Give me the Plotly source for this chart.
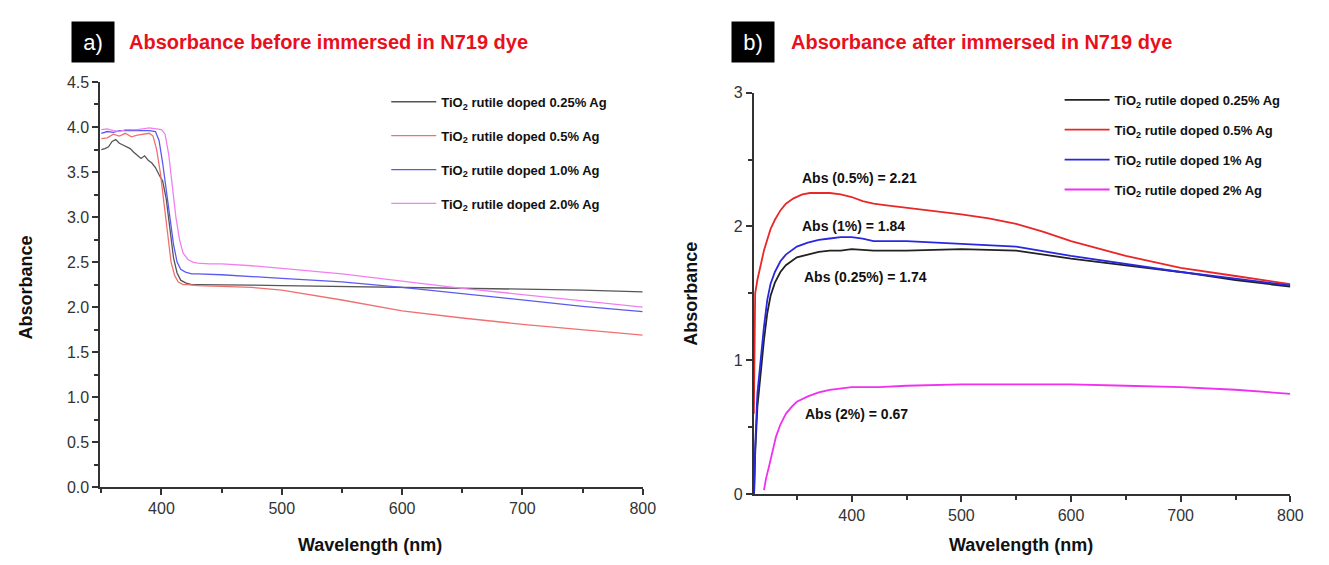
import plotly.graph_objects as go

# ---------------- data: panel a (before dye) ----------------
a_names = ["TiO<sub>2</sub> rutile doped 0.25% Ag", "TiO<sub>2</sub> rutile doped 0.5% Ag",
           "TiO<sub>2</sub> rutile doped 1.0% Ag", "TiO<sub>2</sub> rutile doped 2.0% Ag"]
a_black_x = [350, 353, 356, 359, 362, 365, 368, 371, 374, 377, 380, 383, 386, 389, 392, 395, 398, 401, 404,
             407, 410, 413, 416, 420, 425, 430, 440, 450, 475, 500, 550, 600, 650, 700, 750, 800]
a_black_y = [3.75, 3.76, 3.78, 3.84, 3.86, 3.82, 3.80, 3.78, 3.76, 3.72, 3.68, 3.65, 3.68, 3.63, 3.60, 3.55,
             3.47, 3.40, 3.20, 2.85, 2.55, 2.38, 2.30, 2.27, 2.25, 2.25, 2.25, 2.25, 2.245, 2.24, 2.23, 2.22,
             2.21, 2.20, 2.19, 2.17]
a_red_x = [350, 355, 360, 365, 370, 375, 380, 385, 390, 393, 396, 399, 402, 405, 408, 411, 414, 418, 422,
           430, 450, 475, 500, 550, 600, 650, 700, 750, 800]
a_red_y = [3.87, 3.88, 3.92, 3.90, 3.93, 3.89, 3.91, 3.92, 3.93, 3.90, 3.75, 3.50, 3.15, 2.80, 2.50, 2.35,
           2.28, 2.25, 2.25, 2.24, 2.23, 2.22, 2.19, 2.08, 1.96, 1.88, 1.81, 1.75, 1.69]
a_blue_x = [350, 355, 360, 365, 370, 380, 390, 395, 398, 401, 404, 407, 410, 413, 416, 420, 425, 430, 450,
            500, 550, 600, 650, 700, 750, 800]
a_blue_y = [3.93, 3.95, 3.94, 3.96, 3.96, 3.96, 3.96, 3.95, 3.85, 3.60, 3.30, 3.00, 2.70, 2.50, 2.42, 2.39,
            2.37, 2.37, 2.36, 2.32, 2.28, 2.22, 2.15, 2.08, 2.01, 1.95]
a_mag_x = [350, 355, 360, 365, 370, 380, 390, 395, 400, 403, 406, 409, 412, 415, 418, 422, 426, 430, 440,
           450, 475, 500, 550, 600, 650, 700, 750, 800]
a_mag_y = [3.97, 3.98, 3.96, 3.95, 3.97, 3.97, 3.99, 3.98, 3.97, 3.92, 3.70, 3.35, 3.00, 2.75, 2.60, 2.53,
           2.50, 2.49, 2.48, 2.48, 2.46, 2.43, 2.37, 2.29, 2.21, 2.14, 2.07, 2.00]

# ---------------- data: panel b (after dye) ----------------
b_names = ["TiO<sub>2</sub> rutile doped 0.25% Ag", "TiO<sub>2</sub> rutile doped 0.5% Ag",
           "TiO<sub>2</sub> rutile doped 1% Ag", "TiO<sub>2</sub> rutile doped 2% Ag"]
b_black_x = [311, 312, 314, 317, 320, 323, 326, 330, 335, 340, 345, 350, 360, 370, 380, 390, 400, 420, 450,
             500, 550, 600, 650, 700, 750, 800]
b_black_y = [0.0, 0.30, 0.65, 0.92, 1.15, 1.35, 1.48, 1.58, 1.66, 1.71, 1.74, 1.77, 1.79, 1.81, 1.82, 1.82,
             1.83, 1.82, 1.82, 1.83, 1.82, 1.76, 1.71, 1.66, 1.60, 1.55]
b_red_x = [310.8, 311.5, 312, 314, 317, 320, 323, 326, 330, 335, 340, 347, 355, 362, 370, 380, 390, 395, 400,
           410, 420, 430, 450, 475, 500, 525, 550, 575, 600, 650, 700, 750, 800]
b_red_y = [0.60, 1.20, 1.50, 1.60, 1.71, 1.82, 1.90, 1.98, 2.05, 2.12, 2.17, 2.21, 2.24, 2.25, 2.25, 2.25,
           2.24, 2.23, 2.22, 2.19, 2.17, 2.16, 2.14, 2.12, 2.09, 2.06, 2.02, 1.96, 1.89, 1.78, 1.69, 1.63, 1.57]
b_blue_x = [311, 312, 314, 317, 320, 323, 326, 330, 335, 340, 345, 350, 360, 370, 380, 390, 400, 410, 420,
            450, 500, 550, 600, 650, 700, 750, 800]
b_blue_y = [0.0, 0.35, 0.75, 1.01, 1.25, 1.45, 1.57, 1.66, 1.74, 1.79, 1.82, 1.85, 1.88, 1.90, 1.91, 1.92,
            1.92, 1.91, 1.89, 1.89, 1.87, 1.85, 1.78, 1.72, 1.66, 1.61, 1.56]
b_mag_x = [320, 322, 325, 328, 331, 335, 340, 345, 350, 360, 370, 380, 390, 400, 425, 450, 500, 550, 600,
           650, 700, 750, 800]
b_mag_y = [0.03, 0.12, 0.22, 0.33, 0.43, 0.52, 0.60, 0.65, 0.69, 0.73, 0.76, 0.78, 0.79, 0.80, 0.80, 0.81,
           0.82, 0.82, 0.82, 0.81, 0.80, 0.78, 0.75]

b_labels = ["Abs (0.5%) = 2.21", "Abs (1%) = 1.84", "Abs (0.25%) = 1.74", "Abs (2%) = 0.67"]
b_label_x = [353, 353, 355, 356]
b_label_y = [2.36, 2.00, 1.62, 0.60]

a_colors = ["#555555", "#f07070", "#5a5af0", "#f080f0"]
b_colors = ["#222222", "#e82828", "#2828e0", "#f030f0"]

W, H = 1329, 565
def px(x):
    return x / W
def py(y):
    return 1 - y / H

FONT = "Liberation Sans, Arial, sans-serif"

fig = go.Figure()

a_series = [(a_black_x, a_black_y), (a_red_x, a_red_y), (a_blue_x, a_blue_y), (a_mag_x, a_mag_y)]
for i, (xs, ys) in enumerate(a_series):
    fig.add_trace(go.Scatter(x=xs, y=ys, mode="lines", name=a_names[i],
                             line=dict(color=a_colors[i], width=1.3),
                             xaxis="x", yaxis="y", legend="legend", legendgroup="a%d" % i))

b_series = [(b_black_x, b_black_y), (b_red_x, b_red_y), (b_blue_x, b_blue_y), (b_mag_x, b_mag_y)]
for i, (xs, ys) in enumerate(b_series):
    fig.add_trace(go.Scatter(x=xs, y=ys, mode="lines", name=b_names[i],
                             line=dict(color=b_colors[i], width=1.8),
                             xaxis="x2", yaxis="y2", legend="legend2", legendgroup="b%d" % i))

axis_common = dict(showline=True, linecolor="#333333", linewidth=1.5, ticks="outside", ticklen=6,
                   tickwidth=1.5, tickcolor="#333333", showgrid=False, zeroline=False,
                   tickfont=dict(family=FONT, size=16, color="#333333"))

fig.update_layout(
    width=W, height=H, autosize=False,
    margin=dict(l=0, r=0, t=0, b=0),
    paper_bgcolor="white", plot_bgcolor="white",
    font=dict(family=FONT, color="#222222"),
    xaxis=dict(domain=[px(93), px(641)], range=[349, 800], anchor="y", dtick=100, tick0=0,
               minor=dict(ticks="outside", dtick=50, ticklen=4, tickcolor="#333333"), **axis_common),
    yaxis=dict(domain=[py(486), py(68)], range=[0, 4.5], anchor="x", dtick=0.5, tick0=0, tickformat=".1f",
               minor=dict(ticks="outside", dtick=0.25, ticklen=4, tickcolor="#333333"), **axis_common),
    xaxis2=dict(domain=[px(753), px(1295)], range=[310.6, 800], anchor="y2", dtick=100, tick0=0,
                minor=dict(ticks="outside", dtick=50, ticklen=4, tickcolor="#333333"), **axis_common),
    yaxis2=dict(domain=[py(493), py(79)], range=[0, 3], anchor="x2", dtick=1, tick0=0,
                minor=dict(ticks="outside", dtick=0.5, ticklen=4, tickcolor="#333333"), **axis_common),
    legend=dict(x=px(382), y=py(73), xanchor="left", yanchor="top", bgcolor="rgba(0,0,0,0)",
                font=dict(family=FONT, size=13, color="#111111", weight="bold"),
                itemwidth=45, tracegroupgap=14),
    legend2=dict(x=px(1062), y=py(71), xanchor="left", yanchor="top", bgcolor="rgba(0,0,0,0)",
                 font=dict(family=FONT, size=13, color="#111111", weight="bold"),
                 itemwidth=45, tracegroupgap=10),
    showlegend=True,
)

# data labels in panel b
for t, x, y in zip(b_labels, b_label_x, b_label_y):
    fig.add_annotation(x=x, y=y, xref="x2", yref="y2", text=t, showarrow=False, xanchor="left",
                       yanchor="middle", font=dict(family=FONT, size=14, color="#111111", weight="bold"))

# axis titles
for x, y in ((18, 280), (690, 286)):
    fig.add_annotation(x=px(x), y=py(y), xref="paper", yref="paper", text="Absorbance",
                       showarrow=False, textangle=-90, xanchor="center", yanchor="middle",
                       font=dict(family=FONT, size=18, color="#111111", weight="bold"))
for x in (366, 1023):
    fig.add_annotation(x=px(x), y=py(545), xref="paper", yref="paper", text="Wavelength (nm)",
                       showarrow=False, xanchor="center", yanchor="middle",
                       font=dict(family=FONT, size=18, color="#111111", weight="bold"))

# panel titles
for box_x, title_x, lab, title in ((86, 120, "a)", "Absorbance before immersed in N719 dye"),
                                   (752, 789, "b)", "Absorbance after immersed in N719 dye")):
    fig.add_annotation(x=px(box_x), y=py(27), xref="paper", yref="paper", text=lab, showarrow=False,
                       xanchor="center", yanchor="middle", bgcolor="black", width=40, height=38,
                       align="center", valign="middle",
                       font=dict(family=FONT, size=22, color="white"))
    fig.add_annotation(x=px(title_x), y=py(27), xref="paper", yref="paper", text=title, showarrow=False,
                       xanchor="left", yanchor="middle",
                       font=dict(family=FONT, size=20, color="#e8101a", weight="bold"))

fig.write_html("out.html")
